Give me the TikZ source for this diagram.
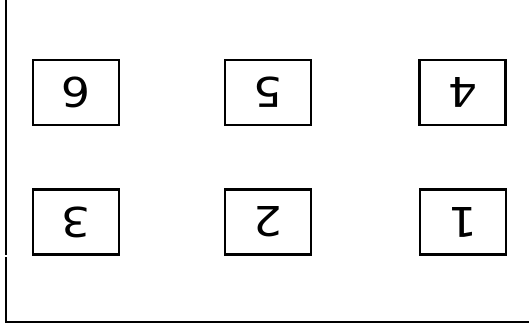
\documentclass[tikz,border=0pt]{standalone}
\usepackage{fontspec}
\setmainfont{DejaVu Sans}
\newfontfamily\digitfont[FakeStretch=1.12]{DejaVu Sans}
\begin{document}
\begin{tikzpicture}[x=1pt,y=1pt,
  cell/.style={draw, line width=2.4pt, minimum width=86pt, minimum height=65pt, inner sep=0pt, rotate=180, font=\digitfont\fontsize{41}{41}\selectfont},
  frame/.style={line width=2.2pt}]
\useasboundingbox (0,0) rectangle (529,333);
% nodes (image y -> 333 - y)
\node[cell] (n6) at (76,240.5) {6};
\node[cell] (n5) at (268,240.5) {5};
\node[cell] (n4) at (462.5,240.5) {4};
\node[cell] (n3) at (76,111) {3};
\node[cell] (n2) at (268,111) {2};
\node[cell] (n1) at (463,111) {1};
% frame
\coordinate (a) at (6,333);
\coordinate (b) at (6,78);
\coordinate (c) at (6,76);
\coordinate (d) at (6,11);
\coordinate (e) at (529,11);
\draw[frame] (a) -- (b);
\draw[frame] (c) -- (d) -- (e);
\end{tikzpicture}
\end{document}
